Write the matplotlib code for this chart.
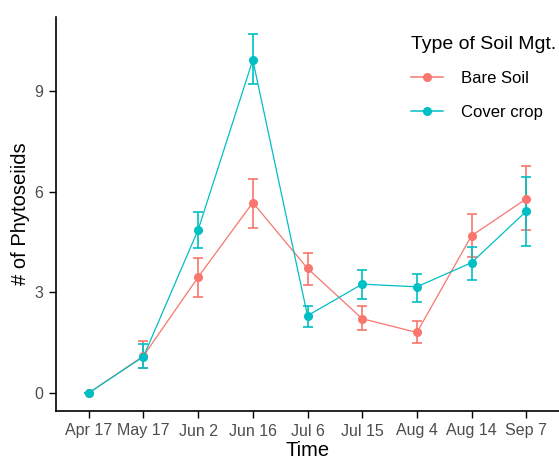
import matplotlib
matplotlib.use("Agg")
import matplotlib.pyplot as plt
from matplotlib.lines import Line2D
import numpy as np

plt.rcParams['font.family'] = ['Liberation Sans', 'DejaVu Sans']

dates = ["Apr 17", "May 17", "Jun 2", "Jun 16", "Jul 6", "Jul 15", "Aug 4", "Aug 14", "Sep 7"]

# Bare Soil: mean, lower, upper
bare_mean = [0.0, 1.10, 3.45, 5.67, 3.71, 2.21, 1.80, 4.68, 5.78]
bare_lo = [0.0, 0.75, 2.85, 4.90, 3.20, 1.88, 1.50, 4.06, 4.86]
bare_hi = [0.0, 1.55, 4.03, 6.38, 4.16, 2.60, 2.15, 5.32, 6.77]

# Cover crop: mean, lower, upper
cover_mean = [0.0, 1.08, 4.86, 9.92, 2.30, 3.24, 3.16, 3.88, 5.41]
cover_lo = [0.0, 0.74, 4.31, 9.20, 1.96, 2.80, 2.72, 3.37, 4.38]
cover_hi = [0.0, 1.45, 5.38, 10.69, 2.60, 3.66, 3.55, 4.36, 6.43]

series = [
    ("Bare Soil", "#F8766D", bare_mean, bare_lo, bare_hi),
    ("Cover crop", "#00BFC4", cover_mean, cover_lo, cover_hi),
]

fig = plt.figure(figsize=(5.59, 4.62), dpi=100)
ax = fig.add_axes([56 / 559, 51 / 462, 503 / 559, 394 / 462])

x = np.arange(1, len(dates) + 1)
handles = []
for name, col, m, lo, hi in series:
    m = np.array(m)
    err = [m - np.array(lo), np.array(hi) - m]
    ax.errorbar(x, m, yerr=err, color=col, lw=0.9, elinewidth=1.2,
                capsize=3.5, capthick=1.2, marker='o', ms=5.5)
    handles.append(Line2D([], [], color=col, lw=1.1, marker='o', ms=5.5, label=name))

ax.set_xlim(0.4, 9.6)
ax.set_ylim(-0.54, 11.2)
ax.set_xticks(x)
ax.set_xticklabels(dates)
ax.set_yticks([0, 3, 6, 9])

for s in ["top", "right"]:
    ax.spines[s].set_visible(False)
for s in ["left", "bottom"]:
    ax.spines[s].set_linewidth(1.2)
ax.tick_params(axis='both', length=5, width=1.0, labelsize=11.5,
               labelcolor="#4D4D4D", pad=4)

ax.set_xlabel("Time", fontsize=14.5, labelpad=2)
ax.set_ylabel("# of Phytoseiids", fontsize=14.5, labelpad=3)

leg = ax.legend(handles=handles, loc='upper left',
                bbox_to_anchor=(396 / 559, 1 - 21 / 462),
                bbox_transform=fig.transFigure, frameon=False,
                title="Type of Soil Mgt.", fontsize=12, title_fontsize=14,
                handlelength=1.9, handletextpad=1.1, labelspacing=1.1)
leg._legend_box.align = "left"

fig.savefig("out.png", dpi=100)
